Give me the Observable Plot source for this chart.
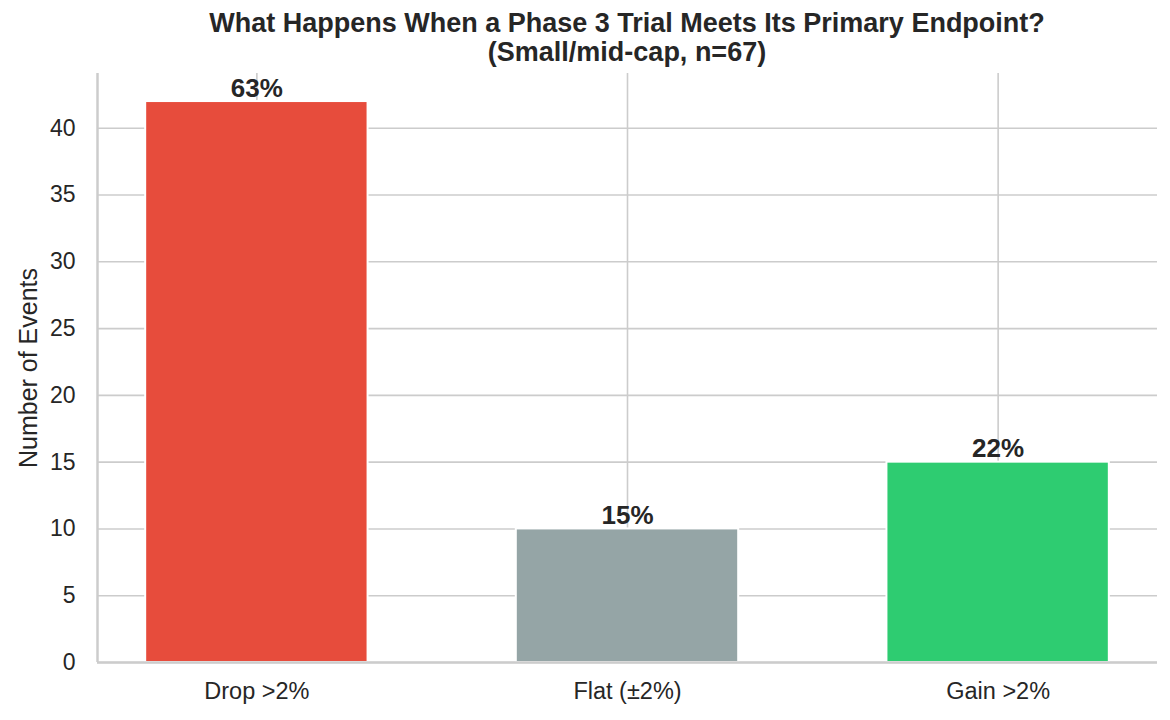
<!DOCTYPE html>
<html>
<head>
<meta charset="utf-8">
<script src="https://cdn.jsdelivr.net/npm/d3@7"></script>
<script src="https://cdn.jsdelivr.net/npm/@observablehq/plot@0.6"></script>
<style>
  body { margin: 0; background: #fff; font-family: "Liberation Sans", Arial, sans-serif; }
  #wrap { width: 1170px; }
  #title { height: 64px; box-sizing: border-box; padding-top: 9px; padding-left: 97px; width: 1157px; text-align: center;
           font-weight: bold; font-size: 27px; line-height: 29px; color: #262626; white-space: nowrap; }
  svg { display: block; }
</style>
</head>
<body>
<div id="wrap">
  <div id="title">What Happens When a Phase 3 Trial Meets Its Primary Endpoint?<br>(Small/mid-cap, n=67)</div>
  <div id="chart"></div>
</div>
<script>
const categories = ["Drop >2%", "Flat (±2%)", "Gain >2%"];
const counts = [42, 10, 15];
const percentLabels = ["63%", "15%", "22%"];
const colors = ["#e74c3c", "#95a5a6", "#2ecc71"];
const yTicks = [0, 5, 10, 15, 20, 25, 30, 35, 40];

const data = categories.map((c, i) => ({i, c, n: counts[i], pct: percentLabels[i], color: colors[i]}));
const xIdx = categories.map((c, i) => i);

const chart = Plot.plot({
  width: 1170,
  height: 656,
  marginTop: 9,
  marginBottom: 58,
  marginLeft: 97,
  marginRight: 13,
  style: {fontFamily: "'Liberation Sans', Arial, sans-serif", color: "#262626", background: "#fff"},
  x: {domain: [-0.43, 2.43], axis: null},
  y: {domain: [0, 44.1], axis: null},
  marks: [
    Plot.ruleY(yTicks, {stroke: "#cccccc", strokeWidth: 1.6}),
    Plot.ruleX(xIdx, {stroke: "#cccccc", strokeWidth: 1.6}),
    Plot.rectY(data, {x1: d => d.i - 0.3, x2: d => d.i + 0.3, y1: 0, y2: "n", fill: "color", stroke: "white", strokeWidth: 2}),
    Plot.text(data, {x: "i", y: "n", text: "pct", dy: -5, lineAnchor: "bottom", fontWeight: "bold", fontSize: 26, fill: "#262626"}),
    Plot.ruleX([-0.43], {stroke: "#cccccc", strokeWidth: 2.5}),
    Plot.ruleY([0], {stroke: "#cccccc", strokeWidth: 2.5}),
    Plot.axisY(yTicks, {tickSize: 0, tickPadding: 22, fontSize: 23, fill: "#262626", label: null}),
    Plot.axisX(xIdx, {tickSize: 0, tickPadding: 20, fontSize: 23.5, fill: "#262626", label: null, tickFormat: i => categories[i]}),
    Plot.text(["Number of Events"], {frameAnchor: "left", textAnchor: "middle", dx: -69, rotate: -90, fontSize: 25, fill: "#262626", text: d => d})
  ]
});
document.getElementById("chart").appendChild(chart);
</script>
</body>
</html>
